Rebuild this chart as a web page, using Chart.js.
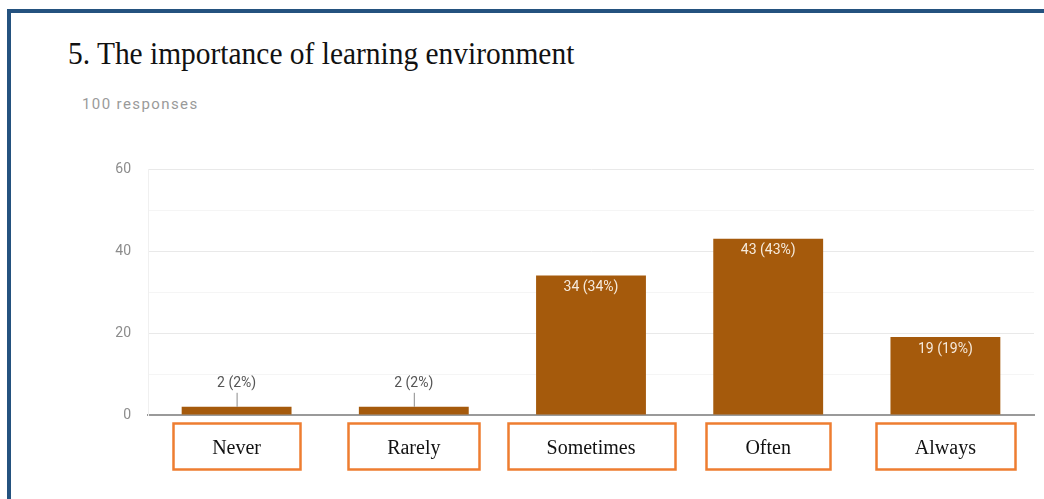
<!DOCTYPE html>
<html>
<head>
<meta charset="utf-8">
<title>The importance of learning environment</title>
<script src="https://cdn.jsdelivr.net/npm/chart.js@4/dist/chart.umd.min.js"></script>
<style>
    html, body { margin: 0; padding: 0; background: #fff; }
    #page { position: relative; width: 1044px; height: 499px; overflow: hidden; }
    #frameTop { position: absolute; left: 7px; top: 9px; right: 0; height: 4px; background: #24527f; }
    #frameLeft { position: absolute; left: 7px; top: 9px; width: 4px; bottom: 0; background: #24527f; }
    #title {
        position: absolute; left: 68px; top: 35px;
        font-family: "Liberation Serif", "Times New Roman", serif;
        font-size: 32px; color: #111; white-space: nowrap;
        transform: scaleX(0.92); transform-origin: 0 0;
    }
    #responses {
        position: absolute; left: 82px; top: 95px;
        font-family: Roboto, "Noto Sans", sans-serif;
        font-size: 15px; letter-spacing: 1.4px; color: #9a9a9a;
    }
    #chartWrap { position: absolute; left: 0; top: 0; width: 1044px; height: 499px; }
</style>
</head>
<body>
<div id="page">
    <div id="frameTop"></div>
    <div id="frameLeft"></div>
    <div id="title">5. The importance of learning environment</div>
    <div id="responses">100 responses</div>
    <div id="chartWrap"><canvas id="chart" width="1044" height="499"></canvas></div>
</div>
<script>
// data
const categories = ['Never', 'Rarely', 'Sometimes', 'Often', 'Always'];
const counts = [2, 2, 34, 43, 19];
const percents = [2, 2, 34, 43, 19];
const yTicks = [0, 20, 40, 60];

(function () {
    'use strict';

    const BAR = '#a55a0c';

    // "n (p%)" labels: inside the bar top for tall bars, above with a leader line for tiny ones
    const valueLabels = {
        id: 'valueLabels',
        afterDatasetsDraw(chart) {
            const { ctx } = chart;
            const meta = chart.getDatasetMeta(0);
            ctx.save();
            ctx.font = '14px Roboto, "Noto Sans", sans-serif';
            ctx.textAlign = 'center';
            ctx.textBaseline = 'middle';
            meta.data.forEach((bar, i) => {
                const text = `${counts[i]} (${percents[i]}%)`;
                if (counts[i] < 8) {
                    ctx.fillStyle = '#555';
                    ctx.fillText(text, bar.x, bar.y - 23);
                    ctx.strokeStyle = '#8a8a8a';
                    ctx.lineWidth = 1;
                    ctx.beginPath();
                    ctx.moveTo(bar.x + 0.5, bar.y - 14);
                    ctx.lineTo(bar.x + 0.5, bar.y);
                    ctx.stroke();
                } else {
                    ctx.fillStyle = '#f6eadc';
                    ctx.fillText(text, bar.x, bar.y + 12);
                }
            });
            ctx.restore();
        },
    };

    // orange outline boxes drawn round the category names
    const labelBoxes = {
        id: 'labelBoxes',
        afterDraw(chart) {
            const { ctx } = chart;
            const x = chart.scales.x;
            ctx.save();
            ctx.font = '20px "Liberation Serif", "Times New Roman", serif';
            ctx.strokeStyle = '#ee7d31';
            ctx.lineWidth = 2.5;
            categories.forEach((c, i) => {
                const cx = x.getPixelForTick(i);
                const w = ctx.measureText(c).width + 78;
                ctx.strokeRect(Math.round(cx - w / 2) + 0.5, 423.5, Math.round(w), 46);
            });
            ctx.restore();
        },
    };

    new Chart(document.getElementById('chart'), {
        type: 'bar',
        data: {
            labels: categories,
            datasets: [{
                data: counts,
                backgroundColor: BAR,
                borderWidth: 0,
                categoryPercentage: 0.62,
                barPercentage: 1,
            }],
        },
        options: {
            responsive: false,
            animation: false,
            events: [],
            layout: { padding: { top: 169, right: 10, left: 0, bottom: 0 } },
            plugins: {
                legend: { display: false },
                tooltip: { enabled: false },
            },
            scales: {
                x: {
                    grid: { display: false },
                    border: { display: true, color: '#9a9a9a', width: 2 },
                    ticks: {
                        color: '#111',
                        font: { family: '"Liberation Serif", "Times New Roman", serif', size: 20 },
                        padding: 14,
                        maxRotation: 0,
                    },
                    afterFit: s => { s.height = 84; },
                },
                y: {
                    min: 0,
                    max: 60,
                    border: { display: true, color: '#f0f0f0' },
                    grid: {
                        drawTicks: false,
                        color: c => (yTicks.includes(c.tick.value) ? '#e9e9e9' : '#f5f5f5'),
                    },
                    ticks: {
                        stepSize: 10,
                        padding: 17,
                        color: '#8c8c8c',
                        font: { family: 'Roboto, "Noto Sans", sans-serif', size: 14 },
                        callback: v => (yTicks.includes(v) ? v : ''),
                    },
                    afterFit: s => { s.width = 148; },
                },
            },
        },
        plugins: [valueLabels, labelBoxes],
    });
})();
</script>
</body>
</html>
